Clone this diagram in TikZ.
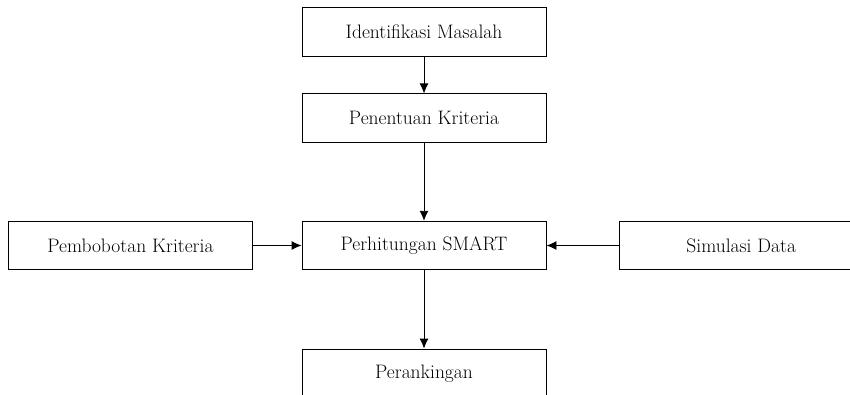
\documentclass[tikz,border=0pt]{standalone}
\usepackage{tikz}
\usetikzlibrary{positioning, arrows.meta}

\begin{document}
\begin{tikzpicture}[x=1pt, y=1pt, font=\fontsize{19.5}{22}\selectfont, line width=0.9pt]
\useasboundingbox (0,0) rectangle (850,-394);
\clip (0,0) rectangle (850,-394);
\tikzset{stepbox/.style={draw, minimum width=244pt, minimum height=48.5pt, inner sep=0pt}}
\node[stepbox] (identifikasi) at (424,-31.7) {Identifikasi Masalah};
\node[stepbox, below=37pt of identifikasi] (kriteria) {Penentuan Kriteria};
\node[stepbox, below=78pt of kriteria] (smart) {Perhitungan SMART};
\node[stepbox, left=48.7pt of smart] (bobot) {Pembobotan Kriteria};
\node[stepbox, right=72.3pt of smart] (simulasi) {Simulasi Data};
\node[stepbox, below=78.4pt of smart] (ranking) {Perankingan};
\draw[-{Latex[length=10pt, width=9pt]}] (identifikasi) -- (kriteria);
\draw[-{Latex[length=10pt, width=9pt]}] (kriteria) -- (smart);
\draw[-{Latex[length=10pt, width=9pt]}] (bobot) -- (smart);
\draw[-{Latex[length=10pt, width=9pt]}] (simulasi) -- (smart);
\draw[-{Latex[length=10pt, width=9pt]}] (smart) -- (ranking);
\end{tikzpicture}
\end{document}
